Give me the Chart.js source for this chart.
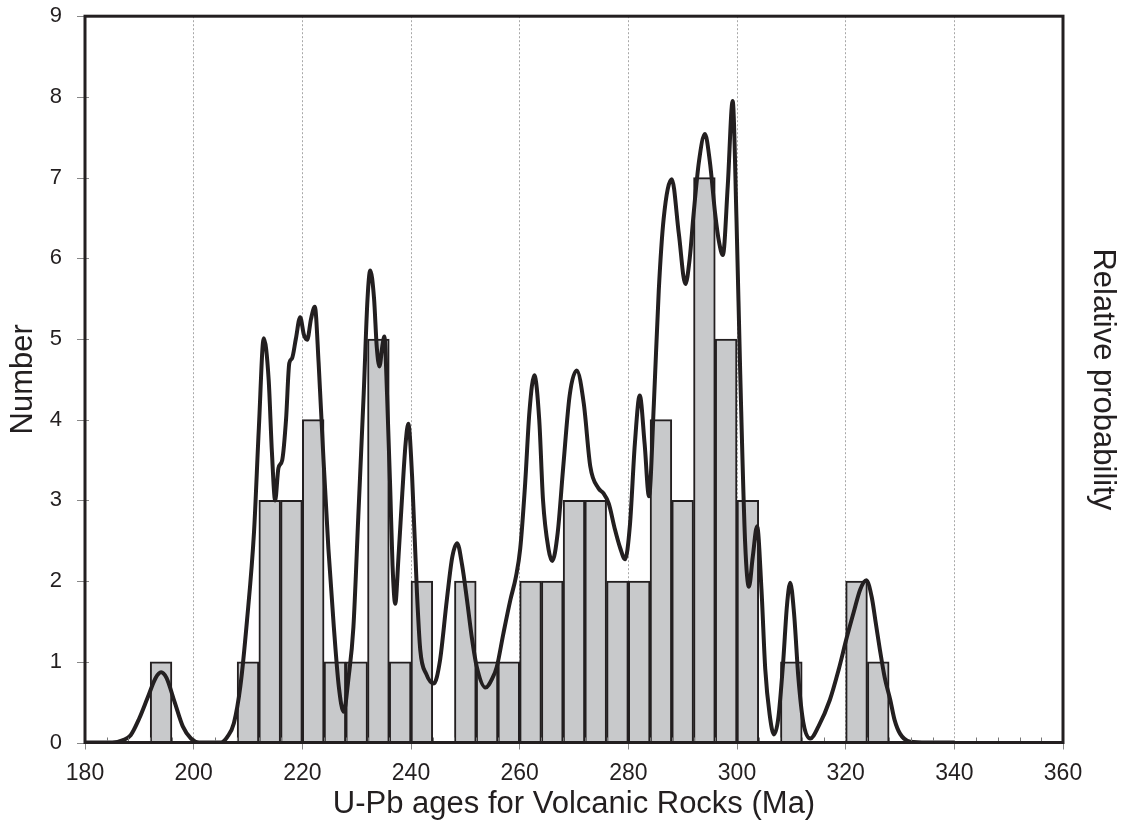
<!DOCTYPE html>
<html>
<head>
<meta charset="utf-8">
<script src="https://cdn.jsdelivr.net/npm/chart.js@4.4.1/dist/chart.umd.min.js"></script>
<style>
  html, body { margin: 0; padding: 0; background: #fff; }
</style>
</head>
<body>
<canvas id="ageChart" width="1124" height="823"></canvas>
<script>
// histogram bins (4 Ma wide), centre of each bin and number of ages in it
const binCenters = [194, 210, 214, 218, 222, 226, 230, 234, 238, 242,
                    250, 254, 258, 262, 266, 270, 274, 278, 282, 286,
                    290, 294, 298, 302, 310, 322, 326];
const binCounts  = [1, 1, 3, 3, 4, 1, 1, 5, 1, 2,
                    2, 1, 1, 2, 2, 3, 3, 2, 2, 4,
                    3, 7, 5, 3, 1, 2, 1];

// relative probability curve (in "Number" units)
const curveAges = [180, 185, 187, 188.4, 190, 191.5, 193, 194, 195, 196.5, 198, 199.5, 201, 205,
  206.2, 207.4, 208.6, 209.8, 211.1, 212, 212.9, 213.8, 214.4, 215, 215.6, 216.3, 217, 217.6, 218.1,
  218.8, 219.6, 220.3, 220.9, 221.6, 222.3, 223, 223.9, 224.8, 225.8, 226.7, 227.6, 228.5, 229.4,
  230.3, 231.3, 232, 232.5, 233.2, 233.7, 234.2, 234.7, 235.1, 235.6, 236.2, 236.6, 237.1, 237.7,
  238.4, 239, 239.5, 240.2, 241.1, 241.7, 242.8, 244.2, 245.3, 246.6, 247.6, 248.5, 249.4, 250.3,
  251.2, 252.1, 253.7, 255, 255.8, 257, 258.3, 259.3, 260.1, 261, 261.8, 262.7, 263.6, 264.3, 265.3,
  266, 267, 268, 269.2, 270.5, 271.8, 273, 274.5, 275.4, 276.4, 277.5, 278.5, 279.4, 280.3, 281.2,
  282.1, 283, 283.8, 284.7, 285.6, 286.5, 288, 289.3, 290.5, 291.3, 292, 293, 294.1, 295, 296,
  296.7, 297.4, 298.3, 299.2, 299.9, 300.6, 301.5, 302.2, 302.9, 303.7, 304.5, 305.2, 306, 306.8,
  307.6, 308.5, 309.2, 309.8, 310.5, 311.3, 312.2, 313.5, 315, 317.1, 318.7, 320.2, 321.5, 322.7,
  323.8, 324.8, 325.5, 326.3, 327.2, 328.2, 329, 330, 331.9, 335, 340];
const curveProb = [0, 0, 0.03, 0.09, 0.3, 0.55, 0.8, 0.87, 0.8, 0.5, 0.2, 0.05, 0, 0,
  0.07, 0.24, 0.7, 1.5, 2.6, 3.9, 5.01, 4.5, 3.6, 3.0, 3.4, 3.5, 4.0, 4.7, 4.76,
  5.0, 5.27, 5.05, 4.99, 5.25, 5.4, 4.7, 3.5, 2.4, 1.43, 0.7, 0.38, 0.8, 1.43,
  2.8, 4.33, 5.5, 5.85, 5.5, 4.9, 4.66, 4.9, 5.03, 4.3, 3.09, 2.2, 1.72, 2.3,
  3.09, 3.7, 3.95, 3.3, 1.85, 1.15, 0.85, 0.73, 1.0, 1.77, 2.3, 2.47, 2.2, 1.77,
  1.3, 0.94, 0.68, 0.8, 0.94, 1.35, 1.77, 2.05, 2.4, 3.2, 4.1, 4.55, 4.0, 3.0, 2.4,
  2.25, 2.6, 3.4, 4.3, 4.61, 4.2, 3.42, 3.15, 3.09, 2.96, 2.65, 2.41, 2.27, 2.7, 3.7,
  4.3, 3.7, 3.05, 4.2, 5.6, 6.49, 6.98, 6.3, 5.68, 6.0, 6.54, 7.2, 7.54, 7.2, 6.54,
  6.2, 6.04, 6.9, 7.95, 6.5, 4.56, 2.47, 1.93, 2.3, 2.68, 1.9, 0.91, 0.35, 0.1,
  0.3, 1.0, 1.7, 1.98, 1.6, 0.8, 0.25, 0.05, 0.2, 0.53, 0.9, 1.3, 1.62, 1.9,
  2.01, 1.8, 1.5, 1.15, 0.8, 0.53, 0.28, 0.11, 0.01, 0, 0];

const ink = '#231f20';
const fontFamily = '"Liberation Sans", Arial, sans-serif';

// black frame round the plot, short y ticks across the axis and
// the small inward ticks every 4 Ma along the bottom
const frameAndMinorTicks = {
  id: 'frameAndMinorTicks',
  afterDatasetsDraw(chart) {
    const {ctx, chartArea: a, scales: {x, y}} = chart;
    ctx.save();
    ctx.strokeStyle = '#777';
    ctx.lineWidth = 1;
    for (let v = 184; v < 360; v += 4) {
      if (v % 20 === 0) continue;
      const px = Math.round(x.getPixelForValue(v)) + 0.5;
      ctx.beginPath();
      ctx.moveTo(px, a.bottom);
      ctx.lineTo(px, a.bottom - 5);
      ctx.stroke();
    }
    ctx.strokeStyle = '#888';
    y.ticks.forEach(t => {
      const py = Math.round(y.getPixelForValue(t.value)) + 0.5;
      ctx.beginPath();
      ctx.moveTo(a.left - 8, py);
      ctx.lineTo(a.left + 4, py);
      ctx.stroke();
    });
    ctx.strokeStyle = ink;
    ctx.lineWidth = 3;
    ctx.strokeRect(a.left, a.top, a.right - a.left, a.bottom - a.top);
    ctx.restore();
  }
};

new Chart(document.getElementById('ageChart'), {
  type: 'bar',
  data: {
    datasets: [
      {
        type: 'line',
        label: 'Relative probability',
        data: curveAges.map((a, i) => ({x: a, y: curveProb[i]})),
        yAxisID: 'y2',
        borderColor: ink,
        borderWidth: 4,
        pointRadius: 0,
        cubicInterpolationMode: 'monotone',
        fill: false,
        order: 0
      },
      {
        type: 'bar',
        label: 'Number',
        data: binCenters.map((c, i) => ({x: c, y: binCounts[i]})),
        yAxisID: 'y',
        backgroundColor: '#c8c9cb',
        borderColor: ink,
        borderWidth: 2,
        barPercentage: 1,
        categoryPercentage: 1,
        order: 1
      }
    ]
  },
  options: {
    responsive: false,
    animation: false,
    layout: { padding: { top: 0 } },
    plugins: {
      legend: { display: false },
      tooltip: { enabled: false }
    },
    scales: {
      x: {
        type: 'linear',
        min: 180,
        max: 360,
        offset: false,
        afterFit(scale) { scale.height = 80.5; },
        border: { display: false, dash: [2, 2] },
        grid: {
          offset: false,
          color: '#a8a8a8',
          tickColor: '#888',
          tickBorderDash: [],
          tickLength: 7
        },
        ticks: {
          stepSize: 20,
          padding: 10,
          color: ink,
          font: { family: fontFamily, size: 23 }
        },
        title: {
          display: true,
          text: 'U-Pb ages for Volcanic Rocks (Ma)',
          color: ink,
          padding: { top: 0, bottom: 0 },
          font: { family: fontFamily, size: 31 }
        }
      },
      y: {
        position: 'left',
        min: 0,
        max: 9,
        afterFit(scale) { scale.width = 85; },
        border: { display: false },
        grid: {
          drawOnChartArea: false,
          tickColor: 'rgba(0,0,0,0)',
          tickLength: 20
        },
        ticks: {
          stepSize: 1,
          padding: 3,
          color: ink,
          font: { family: fontFamily, size: 22 }
        },
        title: {
          display: true,
          text: 'Number',
          color: ink,
          padding: { top: 5, bottom: 0 },
          font: { family: fontFamily, size: 31 }
        }
      },
      y2: {
        position: 'right',
        min: 0,
        max: 9,
        afterFit(scale) { scale.width = 61; },
        border: { display: false },
        grid: { display: false },
        ticks: { display: false },
        title: {
          display: true,
          text: 'Relative probability',
          color: ink,
          padding: { top: 3, bottom: 0 },
          font: { family: fontFamily, size: 31 }
        }
      }
    }
  },
  plugins: [frameAndMinorTicks]
});
</script>
</body>
</html>
